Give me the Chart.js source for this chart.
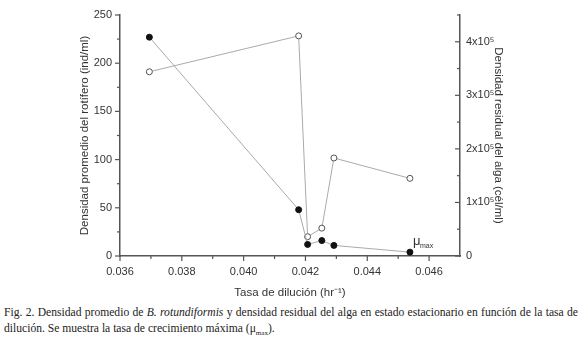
<!DOCTYPE html>
<html>
<head>
<meta charset="utf-8">
<script src="https://cdn.jsdelivr.net/npm/chart.js@4"></script>
<style>
  body { margin: 0; background: #fff; width: 580px; height: 337px; overflow: hidden; }
  #wrap { position: absolute; left: 0; top: 0; width: 580px; height: 300px; }
  #caption {
    position: absolute; left: 4px; top: 305px; width: 574px;
    font: 11.6px "Liberation Serif", serif; line-height: 16px;
    text-align: justify; color: #222;
  }
  #caption sub { font-size: 7px; }
</style>
</head>
<body>
<div id="wrap"><canvas id="chart" width="580" height="300"></canvas></div>
<div id="caption">Fig. 2. Densidad promedio de <i>B. rotundiformis</i> y densidad residual del alga en estado estacionario en función de la tasa de dilución. Se muestra la tasa de crecimiento máxima (μ<sub>max</sub>).</div>
<script>
// data
const dilution = [0.03695, 0.04178, 0.04207, 0.04253, 0.04292, 0.04538];
const rotifer = [227, 48, 12, 16, 11, 4];
const algae = [344000, 411000, 36000, 52000, 183000, 145000];

// axis ticks
const xTicks = [0.036, 0.038, 0.040, 0.042, 0.044, 0.046];
const xMinor = [0.037, 0.039, 0.041, 0.043, 0.045];
const leftTicks = [0, 50, 100, 150, 200, 250];
const leftMinor = [25, 75, 125, 175, 225];
const rightTicks = [0, 100000, 200000, 300000, 400000];
const rightLabels = ['0', '1x10⁵', '2x10⁵', '3x10⁵', '4x10⁵'];
const rightMinor = [50000, 150000, 250000, 350000, 450000];

const sans = 'Liberation Sans';
const tickFont = { family: sans, size: 11 };
const titleFont = { family: sans, size: 11.5 };
const axisColor = '#555';
const textColor = '#333';
const noGrid = { display: false, drawTicks: false };

const toPoints = (xs, ys) => xs.map((x, i) => ({ x: x, y: ys[i] }));

// tick marks drawn by hand so minor ticks can be shorter
const tickMarks = {
  id: 'tickMarks',
  afterDraw(chart) {
    const ctx = chart.ctx;
    const { x, y, y2 } = chart.scales;
    ctx.save();
    ctx.strokeStyle = axisColor;
    ctx.lineWidth = 1.2;
    const mark = (x1, y1, x2, y2_) => {
      ctx.beginPath(); ctx.moveTo(x1, y1); ctx.lineTo(x2, y2_); ctx.stroke();
    };
    xTicks.forEach(v => { const p = x.getPixelForValue(v); mark(p, x.top, p, x.top + 5); });
    xMinor.forEach(v => { const p = x.getPixelForValue(v); mark(p, x.top, p, x.top + 3); });
    leftTicks.forEach(v => { const p = y.getPixelForValue(v); mark(y.right, p, y.right - 5, p); });
    leftMinor.forEach(v => { const p = y.getPixelForValue(v); mark(y.right, p, y.right - 3, p); });
    rightTicks.forEach(v => { const p = y2.getPixelForValue(v); mark(y2.left, p, y2.left - 5, p); });
    rightMinor.forEach(v => { const p = y2.getPixelForValue(v); mark(y2.left, p, y2.left - 3, p); });
    ctx.restore();
  }
};

// mu max label next to the last rotifer point
const muLabel = {
  id: 'muLabel',
  afterDatasetsDraw(chart) {
    const meta = chart.getDatasetMeta(0);
    const pt = meta.data[meta.data.length - 1];
    const ctx = chart.ctx;
    ctx.save();
    ctx.fillStyle = textColor;
    ctx.textBaseline = 'alphabetic';
    ctx.font = '13px ' + sans;
    ctx.fillText('μ', pt.x + 3, pt.y - 7);
    ctx.font = '7px ' + sans;
    ctx.fillText('max', pt.x + 10, pt.y - 4);
    ctx.restore();
  }
};

new Chart(document.getElementById('chart'), {
  type: 'scatter',
  data: {
    datasets: [
      {
        label: 'Rotífero',
        data: toPoints(dilution, rotifer),
        yAxisID: 'y',
        showLine: true,
        borderColor: '#aaa',
        borderWidth: 1,
        pointBackgroundColor: '#111',
        pointBorderColor: '#111',
        pointRadius: 3,
        pointBorderWidth: 1
      },
      {
        label: 'Alga',
        data: toPoints(dilution, algae),
        yAxisID: 'y2',
        showLine: true,
        borderColor: '#aaa',
        borderWidth: 1,
        pointBackgroundColor: '#fff',
        pointBorderColor: '#555',
        pointRadius: 3,
        pointBorderWidth: 1
      }
    ]
  },
  options: {
    responsive: false,
    animation: false,
    layout: { padding: { left: 78, right: 75, top: 15, bottom: 0 } },
    plugins: { legend: { display: false }, tooltip: { enabled: false } },
    scales: {
      x: {
        type: 'linear', position: 'bottom', min: 0.036, max: 0.047,
        afterBuildTicks: s => { s.ticks = xTicks.map(v => ({ value: v })); },
        afterFit: s => { s.height = 44; },
        grid: noGrid,
        border: { color: axisColor, width: 1.5 },
        ticks: { padding: 9, font: tickFont, color: textColor, maxRotation: 0,
                 callback: v => v.toFixed(3) },
        title: { display: true, text: 'Tasa de dilución (hr⁻¹)', font: titleFont, color: textColor,
                 padding: { top: 6, bottom: 0 } }
      },
      y: {
        type: 'linear', position: 'left', min: 0, max: 250,
        afterBuildTicks: s => { s.ticks = leftTicks.map(v => ({ value: v })); },
        afterFit: s => { s.width = 42; },
        grid: noGrid,
        border: { color: axisColor, width: 1.5 },
        ticks: { padding: 8, font: tickFont, color: textColor },
        title: { display: true, text: 'Densidad promedio del rotífero (ind/ml)', font: titleFont, color: textColor,
                 padding: 0 }
      },
      y2: {
        type: 'linear', position: 'right', min: 0, max: 450000,
        afterBuildTicks: s => { s.ticks = rightTicks.map(v => ({ value: v })); },
        afterFit: s => { s.width = 45; },
        grid: noGrid,
        border: { color: axisColor, width: 1.5 },
        ticks: { padding: 6, font: tickFont, color: textColor,
                 callback: (v, i) => rightLabels[i] },
        title: { display: true, text: 'Densidad residual del alga (cél/ml)', font: titleFont, color: textColor,
                 padding: 0 }
      }
    }
  },
  plugins: [tickMarks, muLabel]
});
</script>
</body>
</html>
